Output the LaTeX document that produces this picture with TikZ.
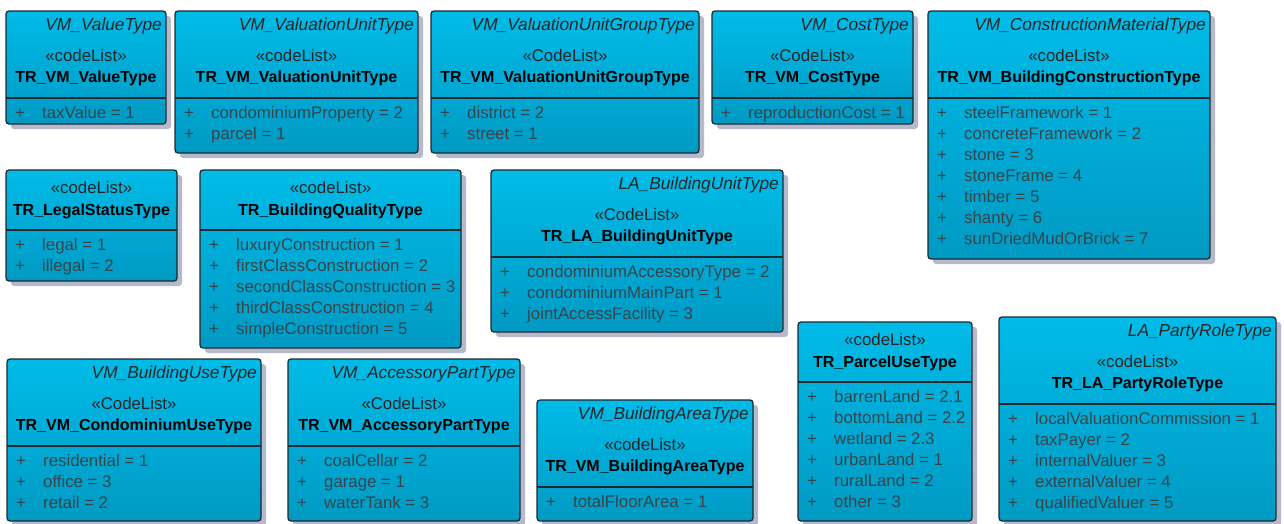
\documentclass[tikz,border=0pt]{standalone}
\usepackage{fontspec}
\setmainfont{Liberation Sans}
\usepackage{xcolor}
\usepackage{tikz}

\definecolor{clstop}{HTML}{00BBE8}
\definecolor{clsbot}{HTML}{009AC3}
\definecolor{clsline}{HTML}{1B2A31}
\definecolor{clsshadow}{HTML}{B5B9CB}
\definecolor{littext}{HTML}{37454D}

\begin{document}
\begin{tikzpicture}[x=1pt,y=-1pt,
    boxshadow/.style={fill=clsshadow,rounded corners=3pt},
    classbox/.style={draw=clsline,line width=1.3pt,rounded corners=3pt,top color=clstop,bottom color=clsbot},
    divider/.style={draw=clsline,line width=1.2pt},
    typename/.style={anchor=base east,inner sep=0pt,font=\fontsize{17.3}{18}\selectfont\itshape,text=black!85},
    stereo/.style={anchor=base,inner sep=0pt,font=\fontsize{16.8}{18}\selectfont,text=black!85},
    clsname/.style={anchor=base,inner sep=0pt,font=\fontsize{16}{18}\selectfont\bfseries},
    literal/.style={anchor=base west,inner sep=0pt,font=\fontsize{16.8}{18}\selectfont,text=littext}]
    \useasboundingbox (0,0) rectangle (1284,523);

    % first row
    \fill[boxshadow] (11,16) rectangle (171,129);
    \draw[classbox] (6,11) rectangle (166,124);
    \draw[divider] (6,98) -- (166,98);
    \node[typename] (vt-type) at (162,30) {VM\_ValueType};
    \node[stereo] (vt-st) at (86,61) {«codeList»};
    \node[clsname] (vt-name) at (86,82) {TR\_VM\_ValueType};
    \foreach \lit [count=\i] in {taxValue = 1}
        \node[literal] (vt-\i) at (15,{97+21*\i}) {\makebox[27pt][l]{+}\lit};

    \fill[boxshadow] (180,16) rectangle (423,158);
    \draw[classbox] (175,11) rectangle (418,153);
    \draw[divider] (175,98) -- (418,98);
    \node[typename] (vu-type) at (414,30) {VM\_ValuationUnitType};
    \node[stereo] (vu-st) at (296.5,61) {«codeList»};
    \node[clsname] (vu-name) at (296.5,82) {TR\_VM\_ValuationUnitType};
    \foreach \lit [count=\i] in {condominiumProperty = 2, parcel = 1}
        \node[literal] (vu-\i) at (184,{97+21*\i}) {\makebox[27pt][l]{+}\lit};

    \fill[boxshadow] (436,16) rectangle (704,158);
    \draw[classbox] (431,11) rectangle (699,153);
    \draw[divider] (431,98) -- (699,98);
    \node[typename] (vg-type) at (695,30) {VM\_ValuationUnitGroupType};
    \node[stereo] (vg-st) at (565,61) {«CodeList»};
    \node[clsname] (vg-name) at (565,82) {TR\_VM\_ValuationUnitGroupType};
    \foreach \lit [count=\i] in {district = 2, street = 1}
        \node[literal] (vg-\i) at (440,{97+21*\i}) {\makebox[27pt][l]{+}\lit};

    \fill[boxshadow] (717,16) rectangle (918,129);
    \draw[classbox] (712,11) rectangle (913,124);
    \draw[divider] (712,98) -- (913,98);
    \node[typename] (ct-type) at (909,30) {VM\_CostType};
    \node[stereo] (ct-st) at (812.5,61) {«CodeList»};
    \node[clsname] (ct-name) at (812.5,82) {TR\_VM\_CostType};
    \foreach \lit [count=\i] in {reproductionCost = 1}
        \node[literal] (ct-\i) at (721,{97+21*\i}) {\makebox[27pt][l]{+}\lit};

    \fill[boxshadow] (933,16) rectangle (1215,264);
    \draw[classbox] (928,11) rectangle (1210,259);
    \draw[divider] (928,98) -- (1210,98);
    \node[typename] (bc-type) at (1206,30) {VM\_ConstructionMaterialType};
    \node[stereo] (bc-st) at (1069,61) {«codeList»};
    \node[clsname] (bc-name) at (1069,82) {TR\_VM\_BuildingConstructionType};
    \foreach \lit [count=\i] in {steelFramework = 1, concreteFramework = 2, stone = 3, stoneFrame = 4, timber = 5, shanty = 6, sunDriedMudOrBrick = 7}
        \node[literal] (bc-\i) at (937,{97+21*\i}) {\makebox[27pt][l]{+}\lit};

    % second row
    \fill[boxshadow] (11,175) rectangle (182,286);
    \draw[classbox] (6,170) rectangle (177,281);
    \draw[divider] (6,230) -- (177,230);
    \node[stereo] (ls-st) at (91.5,193) {«codeList»};
    \node[clsname] (ls-name) at (91.5,215) {TR\_LegalStatusType};
    \foreach \lit [count=\i] in {legal = 1, illegal = 2}
        \node[literal] (ls-\i) at (15,{229+21*\i}) {\makebox[27pt][l]{+}\lit};

    \fill[boxshadow] (205,175) rectangle (466,353);
    \draw[classbox] (200,170) rectangle (461,348);
    \draw[divider] (200,230) -- (461,230);
    \node[stereo] (bq-st) at (330.5,193) {«codeList»};
    \node[clsname] (bq-name) at (330.5,215) {TR\_BuildingQualityType};
    \foreach \lit [count=\i] in {luxuryConstruction = 1, firstClassConstruction = 2, secondClassConstruction = 3, thirdClassConstruction = 4, simpleConstruction = 5}
        \node[literal] (bq-\i) at (209,{229+21*\i}) {\makebox[27pt][l]{+}\lit};

    \fill[boxshadow] (496,175) rectangle (788,337);
    \draw[classbox] (491,170) rectangle (783,332);
    \draw[divider] (491,257) -- (783,257);
    \node[typename] (bu-type) at (779,189) {LA\_BuildingUnitType};
    \node[stereo] (bu-st) at (637,220) {«CodeList»};
    \node[clsname] (bu-name) at (637,241) {TR\_LA\_BuildingUnitType};
    \foreach \lit [count=\i] in {condominiumAccessoryType = 2, condominiumMainPart = 1, jointAccessFacility = 3}
        \node[literal] (bu-\i) at (500,{256+21*\i}) {\makebox[27pt][l]{+}\lit};

    % third row
    \fill[boxshadow] (12,364) rectangle (266,526);
    \draw[classbox] (7,359) rectangle (261,521);
    \draw[divider] (7,446) -- (261,446);
    \node[typename] (cu-type) at (257,378) {VM\_BuildingUseType};
    \node[stereo] (cu-st) at (134,409) {«CodeList»};
    \node[clsname] (cu-name) at (134,430) {TR\_VM\_CondominiumUseType};
    \foreach \lit [count=\i] in {residential = 1, office = 3, retail = 2}
        \node[literal] (cu-\i) at (16,{445+21*\i}) {\makebox[27pt][l]{+}\lit};

    \fill[boxshadow] (293,364) rectangle (525,526);
    \draw[classbox] (288,359) rectangle (520,521);
    \draw[divider] (288,446) -- (520,446);
    \node[typename] (ap-type) at (516,378) {VM\_AccessoryPartType};
    \node[stereo] (ap-st) at (404,409) {«CodeList»};
    \node[clsname] (ap-name) at (404,430) {TR\_VM\_AccessoryPartType};
    \foreach \lit [count=\i] in {coalCellar = 2, garage = 1, waterTank = 3}
        \node[literal] (ap-\i) at (297,{445+21*\i}) {\makebox[27pt][l]{+}\lit};

    \fill[boxshadow] (542,405) rectangle (758,526);
    \draw[classbox] (537,400) rectangle (753,521);
    \draw[divider] (537,487) -- (753,487);
    \node[typename] (ba-type) at (749,419) {VM\_BuildingAreaType};
    \node[stereo] (ba-st) at (645,450) {«codeList»};
    \node[clsname] (ba-name) at (645,471) {TR\_VM\_BuildingAreaType};
    \foreach \lit [count=\i] in {totalFloorArea = 1}
        \node[literal] (ba-\i) at (546,{486+21*\i}) {\makebox[27pt][l]{+}\lit};

    \fill[boxshadow] (803,327) rectangle (977,526);
    \draw[classbox] (798,322) rectangle (972,521);
    \draw[divider] (798,382) -- (972,382);
    \node[stereo] (pu-st) at (885,345) {«codeList»};
    \node[clsname] (pu-name) at (885,367) {TR\_ParcelUseType};
    \foreach \lit [count=\i] in {barrenLand = 2.1, bottomLand = 2.2, wetland = 2.3, urbanLand = 1, ruralLand = 2, other = 3}
        \node[literal] (pu-\i) at (807,{381+21*\i}) {\makebox[27pt][l]{+}\lit};

    \fill[boxshadow] (1004,322) rectangle (1281,526);
    \draw[classbox] (999,317) rectangle (1276,521);
    \draw[divider] (999,404) -- (1276,404);
    \node[typename] (pr-type) at (1272,336) {LA\_PartyRoleType};
    \node[stereo] (pr-st) at (1137.5,367) {«codeList»};
    \node[clsname] (pr-name) at (1137.5,388) {TR\_LA\_PartyRoleType};
    \foreach \lit [count=\i] in {localValuationCommission = 1, taxPayer = 2, internalValuer = 3, externalValuer = 4, qualifiedValuer = 5}
        \node[literal] (pr-\i) at (1008,{403+21*\i}) {\makebox[27pt][l]{+}\lit};
\end{tikzpicture}
\end{document}
